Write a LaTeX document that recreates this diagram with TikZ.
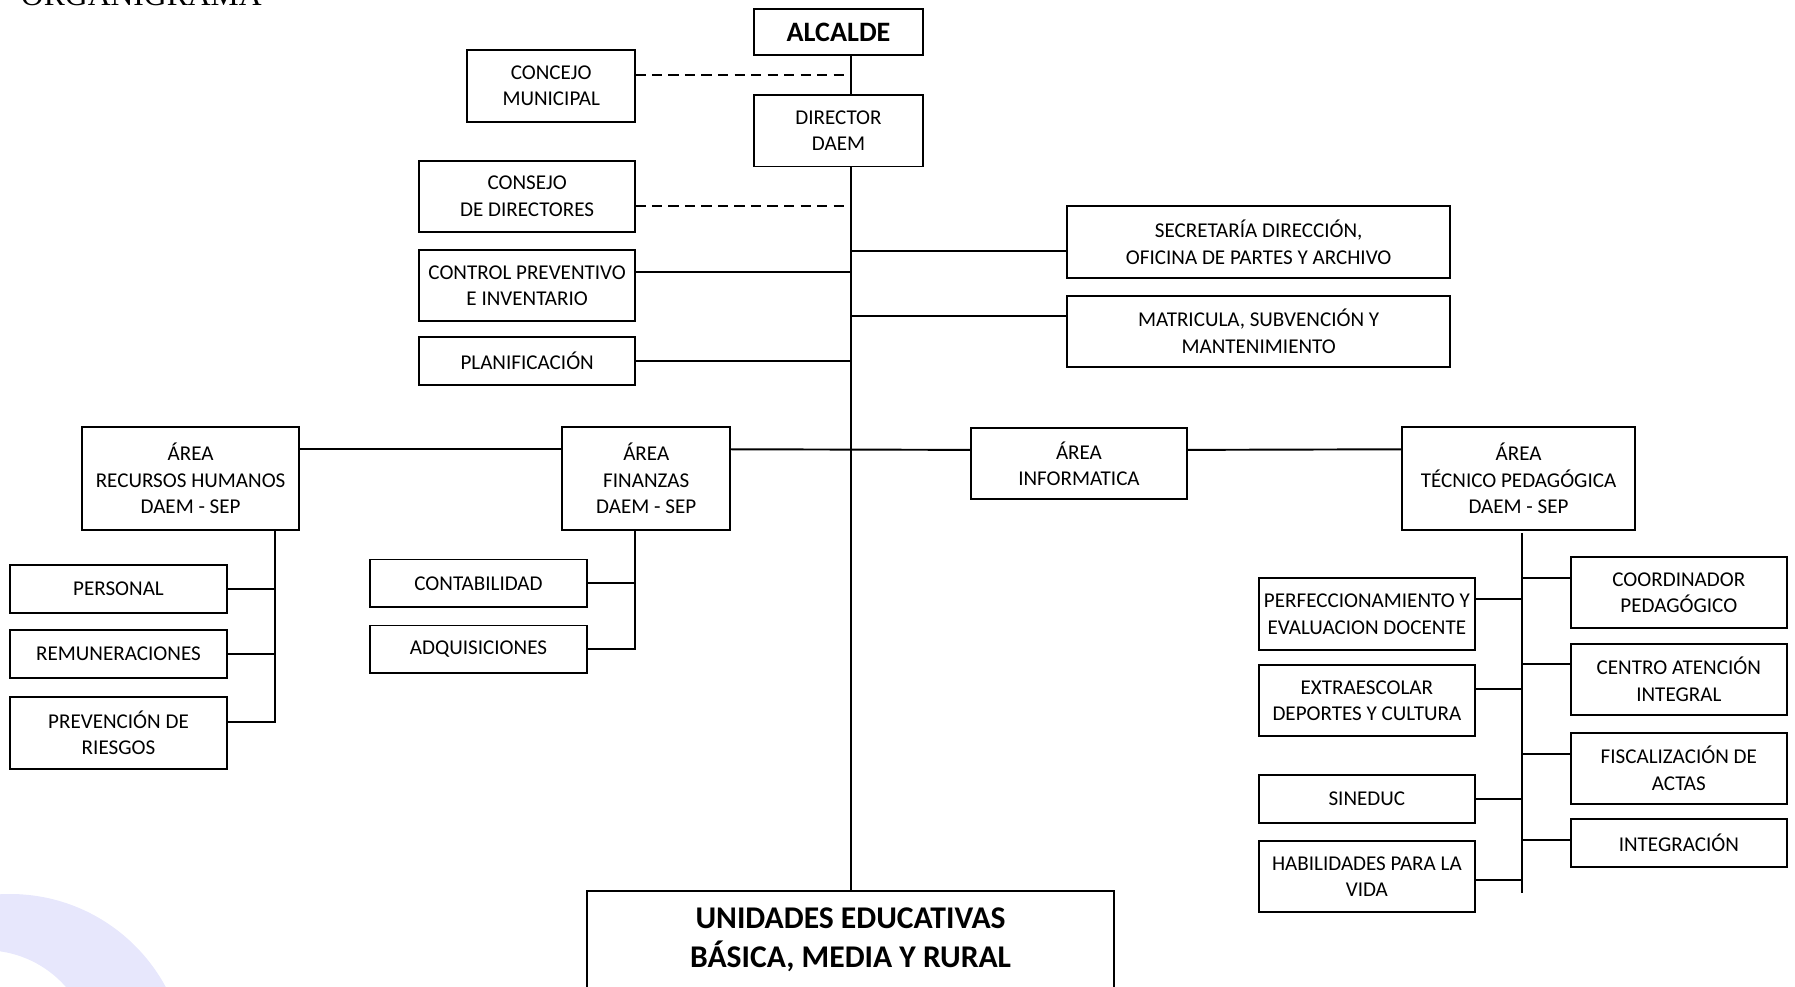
\documentclass[tikz,border=0pt]{standalone}
\usepackage{fontspec}
\setmainfont{Carlito}
\newfontfamily\serifa{Liberation Serif}
\usetikzlibrary{positioning}
\definecolor{marca}{RGB}{231,231,252}

\begin{document}
\begin{tikzpicture}[x=0.022896cm, y=-0.022896cm, line width=1.1pt,
        caja/.style={draw, rectangle, fill=white, align=center, inner sep=1pt, outer sep=0pt, font=\fontsize{12}{15}\selectfont},
        angosta/.style={caja, minimum width=3.37cm},
        normal/.style={caja, minimum width=4.33cm},
        ancha/.style={caja, minimum width=7.67cm},
        una/.style={minimum height=0.95cm},
        dos/.style={minimum height=1.43cm},
        tres/.style={minimum height=2.05cm},
        punteado/.style={dash pattern=on 5.8pt off 3.6pt}]
        \useasboundingbox (0,0) rectangle (1568,862);

        % Fondo
        \fill[marca, even odd rule] (8.7,935.5) circle (3.54cm) (-13,924) circle (2.15cm);
        \node (tit) [anchor=base west, inner sep=0pt, font=\serifa\fontsize{18}{22}\selectfont] at (17.5,5) {ORGANIGRAMA};

        % Nodes
        \node (alc) [angosta, minimum height=0.92cm, font=\bfseries\fontsize{16}{19}\selectfont] at (732.5,28) {ALCALDE};
        \node (dir) [angosta, dos, below=0.8cm of alc] {DIRECTOR\\DAEM};
        \node (conc) [angosta, dos] at (481.5,75) {CONCEJO\\MUNICIPAL};
        \node (cons) [normal, dos] at (460.5,171.5) {CONSEJO\\DE DIRECTORES};
        \node (ctrl) [normal, dos, below=0.355cm of cons] {CONTROL PREVENTIVO\\E INVENTARIO};
        \node (plan) [normal, una] at (460.5,315.5) {PLANIFICACIÓN};
        \node (sec) [ancha, dos] at (1099.5,211.5) {SECRETARÍA DIRECCIÓN,\\OFICINA DE PARTES Y ARCHIVO};
        \node (mat) [ancha, dos, below=0.355cm of sec] {MATRICULA, SUBVENCIÓN Y\\MANTENIMIENTO};

        % Areas
        \node (rrhh) [normal, tres, minimum width=4.35cm] at (166.5,418) {ÁREA\\RECURSOS HUMANOS\\DAEM - SEP};
        \node (fin) [angosta, tres] at (564.5,418) {ÁREA\\FINANZAS\\DAEM - SEP};
        \node (inf) [normal, dos] at (942.5,405) {ÁREA\\INFORMATICA};
        \node (tec) [normal, tres, minimum width=4.65cm] at (1326.5,418) {ÁREA\\TÉCNICO PEDAGÓGICA\\DAEM - SEP};

        \node (per) [normal, una] at (103.5,514.5) {PERSONAL};
        \node (rem) [normal, una, below=0.35cm of per] {REMUNERACIONES};
        \node (prev) [normal, dos, below=0.39cm of rem] {PREVENCIÓN DE\\RIESGOS};

        \node (cont) [normal, una] at (418,509.5) {CONTABILIDAD};
        \node (adq) [normal, una, below=0.37cm of cont] {ADQUISICIONES};

        \node (perf) [normal, dos] at (1194,536.5) {PERFECCIONAMIENTO Y\\EVALUACION DOCENTE};
        \node (ext) [normal, dos, below=0.3cm of perf] {EXTRAESCOLAR\\DEPORTES Y CULTURA};
        \node (sin) [normal, una, below=0.78cm of ext] {SINEDUC};
        \node (hab) [normal, dos, below=0.355cm of sin] {HABILIDADES PARA LA\\VIDA};
        \node (coo) [normal, dos] at (1466.5,517.5) {COORDINADOR\\PEDAGÓGICO};
        \node (cen) [normal, dos, below=0.31cm of coo] {CENTRO ATENCIÓN\\INTEGRAL};
        \node (fis) [normal, dos, below=0.35cm of cen] {FISCALIZACIÓN DE\\ACTAS};
        \node (integ) [normal, una, below=0.3cm of fis] {INTEGRACIÓN};

        \node (uni) [caja, anchor=north, minimum width=10.53cm, minimum height=1.97cm, font=\bfseries\fontsize{18}{22}\selectfont] at (743,778) {UNIDADES EDUCATIVAS\\BÁSICA, MEDIA Y RURAL};

        % Edges
        \coordinate (eje0) at (alc.south -| uni.north);
        \coordinate (eje) at (dir.south -| uni.north);
        \draw (eje0) -- (dir.north -| uni.north);
        \draw (eje) -- (uni.north);
        \draw[punteado] ([yshift=0.21cm]conc.east) -| (eje0);
        \draw[punteado] ([yshift=-0.19cm]cons.east) -| (eje);
        \draw ([yshift=0.28cm]ctrl.east) -| (eje);
        \draw (plan.east) -| (eje);
        \draw ([yshift=-0.18cm]sec.west) -| (eje);
        \draw ([yshift=0.31cm]mat.west) -| (eje);

        \draw ([yshift=-0.44cm]rrhh.north east) -- ([yshift=-0.44cm]fin.north west);
        \draw ([yshift=-0.44cm]fin.north east) -- ([yshift=-0.44cm]inf.north west);
        \draw ([yshift=-0.44cm]inf.north east) -- ([yshift=-0.44cm]tec.north west);

        \draw ([xshift=-0.49cm]rrhh.south east) coordinate (rv) |- ([yshift=0.22cm]prev.east);
        \draw (per.east) -| (rv);
        \draw (rem.east) -| (rv);

        \draw ([xshift=-0.22cm]fin.south) coordinate (fv) |- (adq.east);
        \draw (cont.east) -| (fv);

        \coordinate (tv) at ([xshift=0.06cm, yshift=-0.07cm]tec.south);
        \draw (tv) -- ++(0cm,-7.19cm);
        \draw ([yshift=0.31cm]perf.east) -| (tv);
        \draw ([yshift=0.24cm]ext.east) -| (tv);
        \draw (sin.east) -| (tv);
        \draw ([yshift=-0.08cm]hab.east) -| (tv);
        \draw ([yshift=0.29cm]coo.west) -| (tv);
        \draw ([yshift=0.3cm]cen.west) -| (tv);
        \draw ([yshift=0.29cm]fis.west) -| (tv);
        \draw ([yshift=0.06cm]integ.west) -| (tv);
\end{tikzpicture}
\end{document}
